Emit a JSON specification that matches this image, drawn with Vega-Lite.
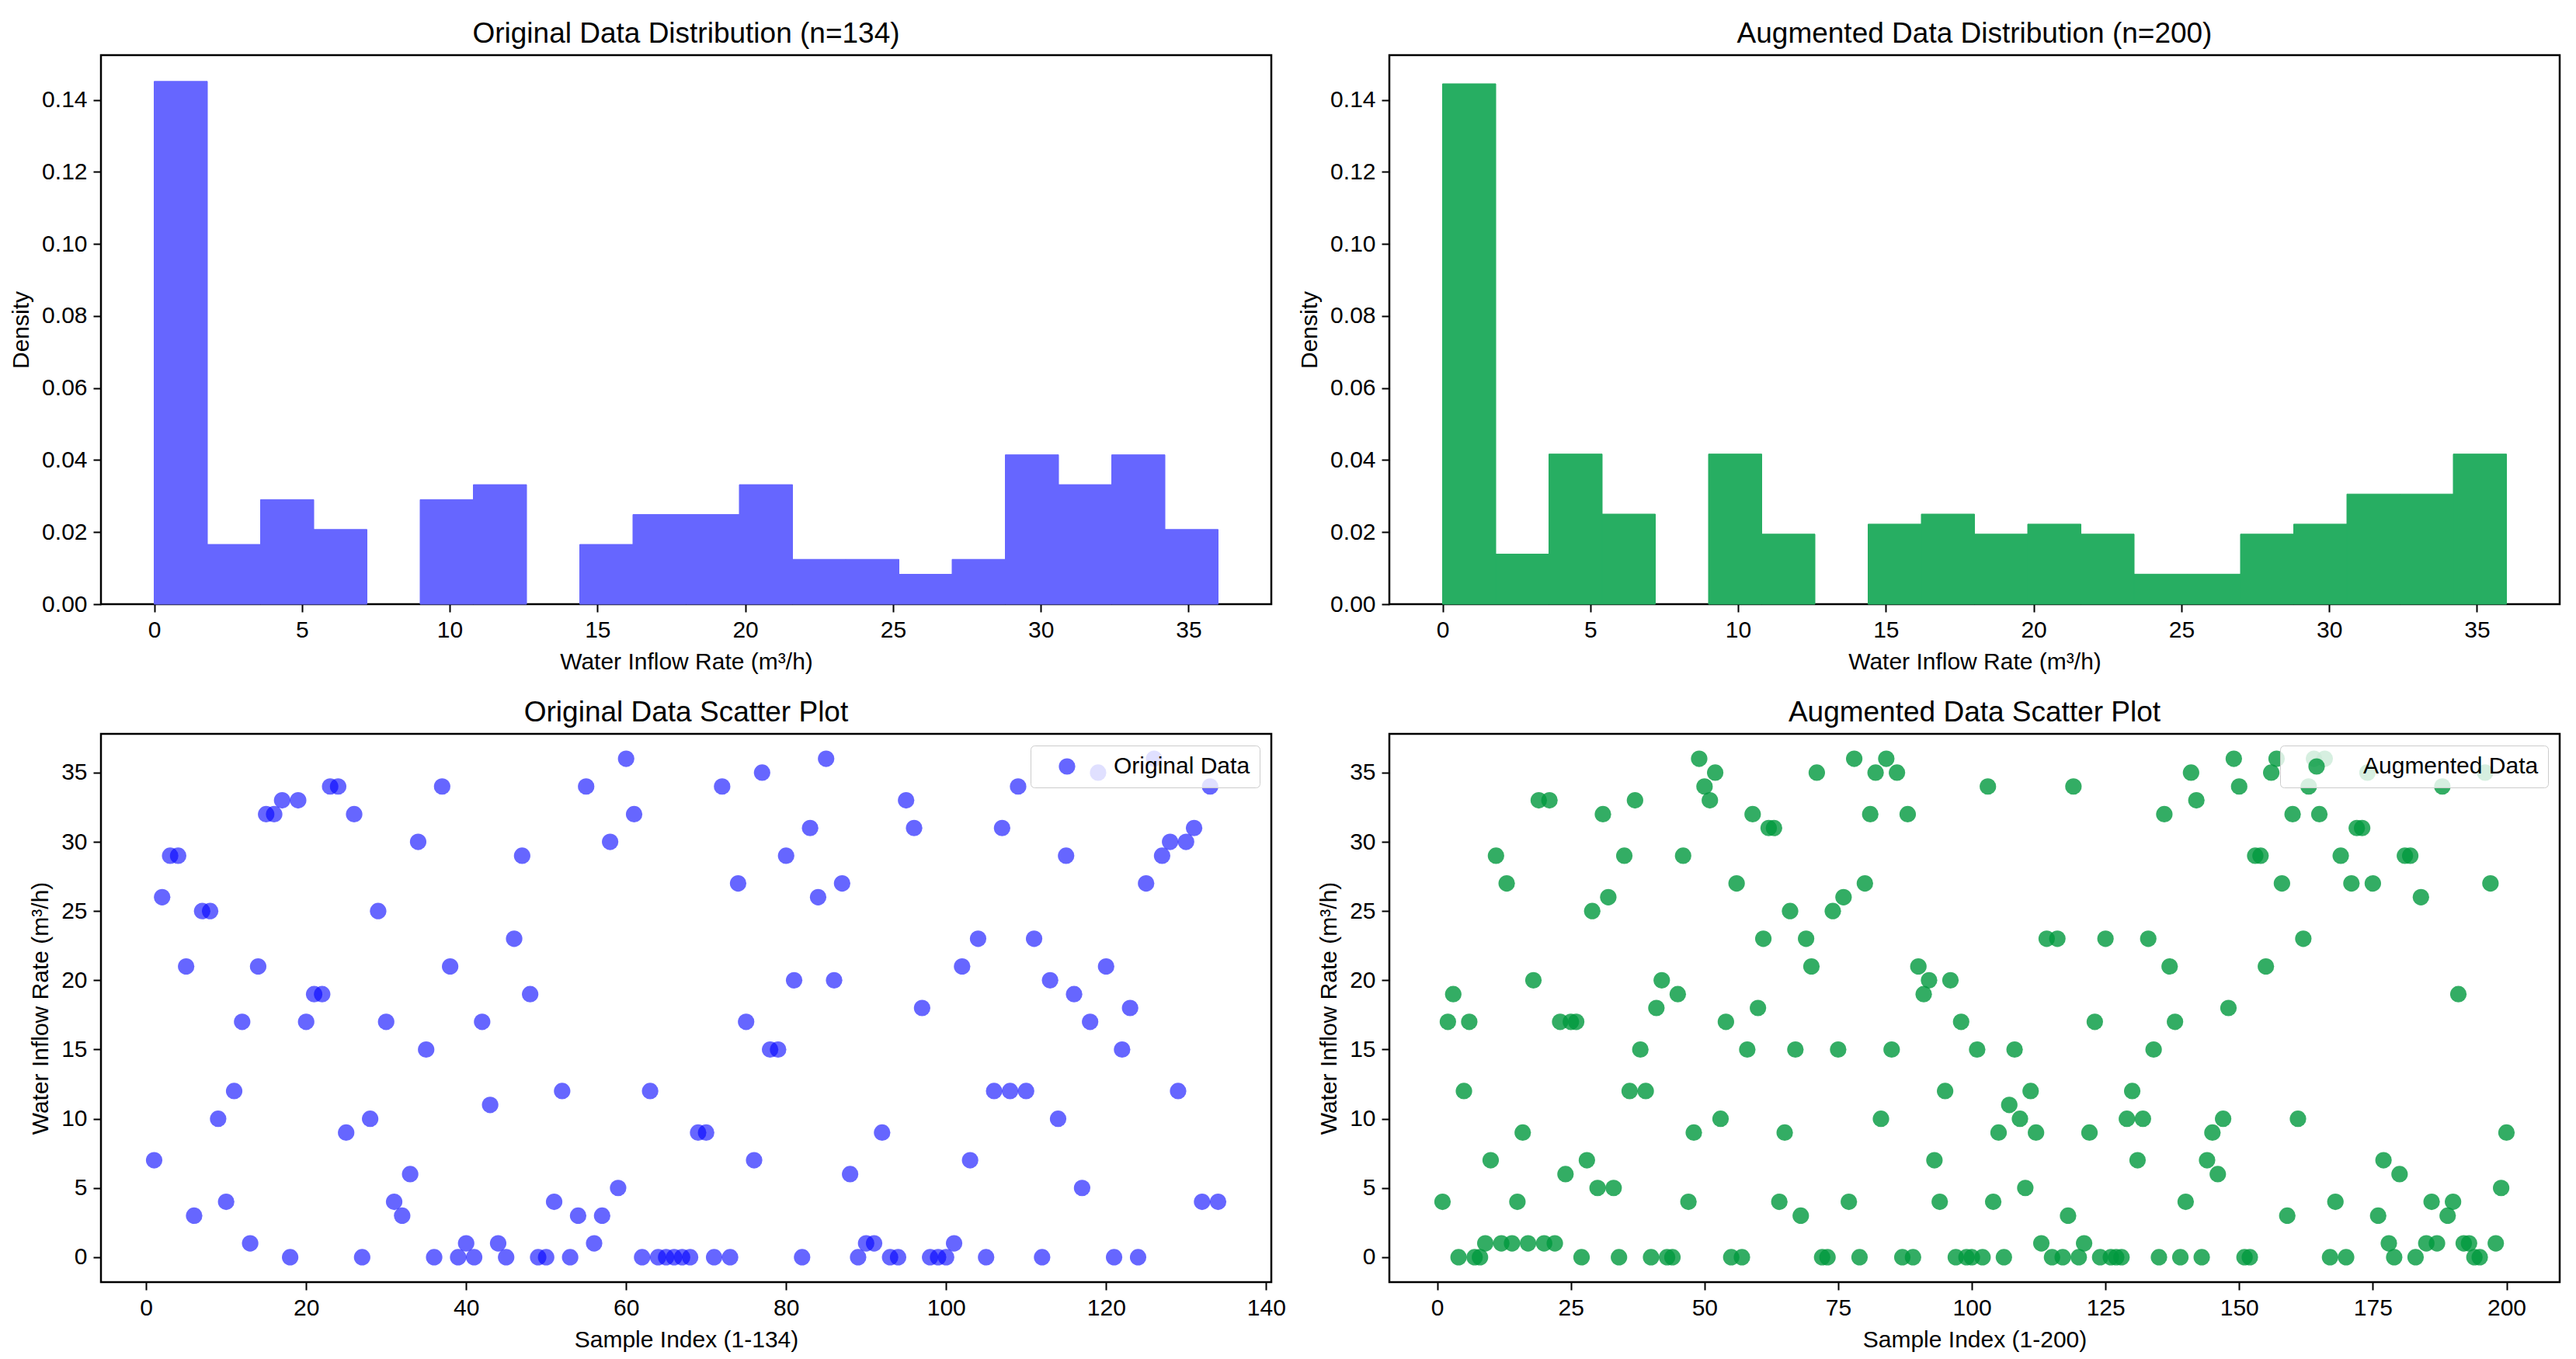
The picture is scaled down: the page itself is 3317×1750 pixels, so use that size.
{
  "$schema": "https://vega.github.io/schema/vega-lite/v6.json",
  "background": "white",
  "padding": {"left": 11, "top": 23, "right": 10, "bottom": 0},
  "config": {
    "font": "Liberation Sans",
    "view": {"stroke": "black", "strokeWidth": 2.5},
    "axis": {
      "grid": false, "domain": false, "ticks": true,
      "tickColor": "black", "tickSize": 10, "tickWidth": 2,
      "labelColor": "black", "labelFontSize": 30, "labelFont": "Liberation Sans",
      "labelPadding": 8, "labelFlush": false, "labelOverlap": false,
      "titleColor": "black", "titleFontSize": 30, "titleFont": "Liberation Sans",
      "titleFontWeight": "normal", "titlePadding": 11
    },
    "title": {"fontSize": 37, "fontWeight": "normal", "font": "Liberation Sans", "color": "black", "anchor": "middle", "baseline": "alphabetic", "offset": 8},
    "legend": {
      "orient": "top-right", "offset": 15, "padding": 12, "cornerRadius": 5,
      "strokeColor": "#cccccc", "fillColor": "rgba(255,255,255,0.8)",
      "labelFontSize": 30, "labelFont": "Liberation Sans", "labelColor": "black", "labelLimit": 0,
      "symbolSize": 450, "symbolType": "circle", "symbolOffset": 20, "labelOffset": 45,
      "symbolStrokeWidth": 0
    }
  },
  "datasets": {
    "hist_orig": [
      {"bin_start": 0.0, "bin_end": 1.8, "density": 0.14511},
      {"bin_start": 1.8, "bin_end": 3.6, "density": 0.01658},
      {"bin_start": 3.6, "bin_end": 5.4, "density": 0.02902},
      {"bin_start": 5.4, "bin_end": 7.2, "density": 0.02073},
      {"bin_start": 9.0, "bin_end": 10.8, "density": 0.02902},
      {"bin_start": 10.8, "bin_end": 12.6, "density": 0.03317},
      {"bin_start": 14.4, "bin_end": 16.2, "density": 0.01658},
      {"bin_start": 16.2, "bin_end": 18.0, "density": 0.02488},
      {"bin_start": 18.0, "bin_end": 19.8, "density": 0.02488},
      {"bin_start": 19.8, "bin_end": 21.6, "density": 0.03317},
      {"bin_start": 21.6, "bin_end": 23.4, "density": 0.01244},
      {"bin_start": 23.4, "bin_end": 25.2, "density": 0.01244},
      {"bin_start": 25.2, "bin_end": 27.0, "density": 0.00829},
      {"bin_start": 27.0, "bin_end": 28.8, "density": 0.01244},
      {"bin_start": 28.8, "bin_end": 30.6, "density": 0.04146},
      {"bin_start": 30.6, "bin_end": 32.4, "density": 0.03317},
      {"bin_start": 32.4, "bin_end": 34.2, "density": 0.04146},
      {"bin_start": 34.2, "bin_end": 36.0, "density": 0.02073}
    ],
    "hist_aug": [
      {"bin_start": 0.0, "bin_end": 1.8, "density": 0.14444},
      {"bin_start": 1.8, "bin_end": 3.6, "density": 0.01389},
      {"bin_start": 3.6, "bin_end": 5.4, "density": 0.04167},
      {"bin_start": 5.4, "bin_end": 7.2, "density": 0.025},
      {"bin_start": 9.0, "bin_end": 10.8, "density": 0.04167},
      {"bin_start": 10.8, "bin_end": 12.6, "density": 0.01944},
      {"bin_start": 14.4, "bin_end": 16.2, "density": 0.02222},
      {"bin_start": 16.2, "bin_end": 18.0, "density": 0.025},
      {"bin_start": 18.0, "bin_end": 19.8, "density": 0.01944},
      {"bin_start": 19.8, "bin_end": 21.6, "density": 0.02222},
      {"bin_start": 21.6, "bin_end": 23.4, "density": 0.01944},
      {"bin_start": 23.4, "bin_end": 25.2, "density": 0.00833},
      {"bin_start": 25.2, "bin_end": 27.0, "density": 0.00833},
      {"bin_start": 27.0, "bin_end": 28.8, "density": 0.01944},
      {"bin_start": 28.8, "bin_end": 30.6, "density": 0.02222},
      {"bin_start": 30.6, "bin_end": 32.4, "density": 0.03056},
      {"bin_start": 32.4, "bin_end": 34.2, "density": 0.03056},
      {"bin_start": 34.2, "bin_end": 36.0, "density": 0.04167}
    ],
    "orig": [
      {"idx":1,"rate":7},{"idx":2,"rate":26},{"idx":3,"rate":29},{"idx":4,"rate":29},{"idx":5,"rate":21},
      {"idx":6,"rate":3},{"idx":7,"rate":25},{"idx":8,"rate":25},{"idx":9,"rate":10},{"idx":10,"rate":4},
      {"idx":11,"rate":12},{"idx":12,"rate":17},{"idx":13,"rate":1},{"idx":14,"rate":21},{"idx":15,"rate":32},
      {"idx":16,"rate":32},{"idx":17,"rate":33},{"idx":18,"rate":0},{"idx":19,"rate":33},{"idx":20,"rate":17},
      {"idx":21,"rate":19},{"idx":22,"rate":19},{"idx":23,"rate":34},{"idx":24,"rate":34},{"idx":25,"rate":9},
      {"idx":26,"rate":32},{"idx":27,"rate":0},{"idx":28,"rate":10},{"idx":29,"rate":25},{"idx":30,"rate":17},
      {"idx":31,"rate":4},{"idx":32,"rate":3},{"idx":33,"rate":6},{"idx":34,"rate":30},{"idx":35,"rate":15},
      {"idx":36,"rate":0},{"idx":37,"rate":34},{"idx":38,"rate":21},{"idx":39,"rate":0},{"idx":40,"rate":1},
      {"idx":41,"rate":0},{"idx":42,"rate":17},{"idx":43,"rate":11},{"idx":44,"rate":1},{"idx":45,"rate":0},
      {"idx":46,"rate":23},{"idx":47,"rate":29},{"idx":48,"rate":19},{"idx":49,"rate":0},{"idx":50,"rate":0},
      {"idx":51,"rate":4},{"idx":52,"rate":12},{"idx":53,"rate":0},{"idx":54,"rate":3},{"idx":55,"rate":34},
      {"idx":56,"rate":1},{"idx":57,"rate":3},{"idx":58,"rate":30},{"idx":59,"rate":5},{"idx":60,"rate":36},
      {"idx":61,"rate":32},{"idx":62,"rate":0},{"idx":63,"rate":12},{"idx":64,"rate":0},{"idx":65,"rate":0},
      {"idx":66,"rate":0},{"idx":67,"rate":0},{"idx":68,"rate":0},{"idx":69,"rate":9},{"idx":70,"rate":9},
      {"idx":71,"rate":0},{"idx":72,"rate":34},{"idx":73,"rate":0},{"idx":74,"rate":27},{"idx":75,"rate":17},
      {"idx":76,"rate":7},{"idx":77,"rate":35},{"idx":78,"rate":15},{"idx":79,"rate":15},{"idx":80,"rate":29},
      {"idx":81,"rate":20},{"idx":82,"rate":0},{"idx":83,"rate":31},{"idx":84,"rate":26},{"idx":85,"rate":36},
      {"idx":86,"rate":20},{"idx":87,"rate":27},{"idx":88,"rate":6},{"idx":89,"rate":0},{"idx":90,"rate":1},
      {"idx":91,"rate":1},{"idx":92,"rate":9},{"idx":93,"rate":0},{"idx":94,"rate":0},{"idx":95,"rate":33},
      {"idx":96,"rate":31},{"idx":97,"rate":18},{"idx":98,"rate":0},{"idx":99,"rate":0},{"idx":100,"rate":0},
      {"idx":101,"rate":1},{"idx":102,"rate":21},{"idx":103,"rate":7},{"idx":104,"rate":23},{"idx":105,"rate":0},
      {"idx":106,"rate":12},{"idx":107,"rate":31},{"idx":108,"rate":12},{"idx":109,"rate":34},{"idx":110,"rate":12},
      {"idx":111,"rate":23},{"idx":112,"rate":0},{"idx":113,"rate":20},{"idx":114,"rate":10},{"idx":115,"rate":29},
      {"idx":116,"rate":19},{"idx":117,"rate":5},{"idx":118,"rate":17},{"idx":119,"rate":35},{"idx":120,"rate":21},
      {"idx":121,"rate":0},{"idx":122,"rate":15},{"idx":123,"rate":18},{"idx":124,"rate":0},{"idx":125,"rate":27},
      {"idx":126,"rate":36},{"idx":127,"rate":29},{"idx":128,"rate":30},{"idx":129,"rate":12},{"idx":130,"rate":30},
      {"idx":131,"rate":31},{"idx":132,"rate":4},{"idx":133,"rate":34},{"idx":134,"rate":4}
    ],
    "aug": [
      {"idx":1,"rate":4},{"idx":2,"rate":17},{"idx":3,"rate":19},{"idx":4,"rate":0},{"idx":5,"rate":12},
      {"idx":6,"rate":17},{"idx":7,"rate":0},{"idx":8,"rate":0},{"idx":9,"rate":1},{"idx":10,"rate":7},
      {"idx":11,"rate":29},{"idx":12,"rate":1},{"idx":13,"rate":27},{"idx":14,"rate":1},{"idx":15,"rate":4},
      {"idx":16,"rate":9},{"idx":17,"rate":1},{"idx":18,"rate":20},{"idx":19,"rate":33},{"idx":20,"rate":1},
      {"idx":21,"rate":33},{"idx":22,"rate":1},{"idx":23,"rate":17},{"idx":24,"rate":6},{"idx":25,"rate":17},
      {"idx":26,"rate":17},{"idx":27,"rate":0},{"idx":28,"rate":7},{"idx":29,"rate":25},{"idx":30,"rate":5},
      {"idx":31,"rate":32},{"idx":32,"rate":26},{"idx":33,"rate":5},{"idx":34,"rate":0},{"idx":35,"rate":29},
      {"idx":36,"rate":12},{"idx":37,"rate":33},{"idx":38,"rate":15},{"idx":39,"rate":12},{"idx":40,"rate":0},
      {"idx":41,"rate":18},{"idx":42,"rate":20},{"idx":43,"rate":0},{"idx":44,"rate":0},{"idx":45,"rate":19},
      {"idx":46,"rate":29},{"idx":47,"rate":4},{"idx":48,"rate":9},{"idx":49,"rate":36},{"idx":50,"rate":34},
      {"idx":51,"rate":33},{"idx":52,"rate":35},{"idx":53,"rate":10},{"idx":54,"rate":17},{"idx":55,"rate":0},
      {"idx":56,"rate":27},{"idx":57,"rate":0},{"idx":58,"rate":15},{"idx":59,"rate":32},{"idx":60,"rate":18},
      {"idx":61,"rate":23},{"idx":62,"rate":31},{"idx":63,"rate":31},{"idx":64,"rate":4},{"idx":65,"rate":9},
      {"idx":66,"rate":25},{"idx":67,"rate":15},{"idx":68,"rate":3},{"idx":69,"rate":23},{"idx":70,"rate":21},
      {"idx":71,"rate":35},{"idx":72,"rate":0},{"idx":73,"rate":0},{"idx":74,"rate":25},{"idx":75,"rate":15},
      {"idx":76,"rate":26},{"idx":77,"rate":4},{"idx":78,"rate":36},{"idx":79,"rate":0},{"idx":80,"rate":27},
      {"idx":81,"rate":32},{"idx":82,"rate":35},{"idx":83,"rate":10},{"idx":84,"rate":36},{"idx":85,"rate":15},
      {"idx":86,"rate":35},{"idx":87,"rate":0},{"idx":88,"rate":32},{"idx":89,"rate":0},{"idx":90,"rate":21},
      {"idx":91,"rate":19},{"idx":92,"rate":20},{"idx":93,"rate":7},{"idx":94,"rate":4},{"idx":95,"rate":12},
      {"idx":96,"rate":20},{"idx":97,"rate":0},{"idx":98,"rate":17},{"idx":99,"rate":0},{"idx":100,"rate":0},
      {"idx":101,"rate":15},{"idx":102,"rate":0},{"idx":103,"rate":34},{"idx":104,"rate":4},{"idx":105,"rate":9},
      {"idx":106,"rate":0},{"idx":107,"rate":11},{"idx":108,"rate":15},{"idx":109,"rate":10},{"idx":110,"rate":5},
      {"idx":111,"rate":12},{"idx":112,"rate":9},{"idx":113,"rate":1},{"idx":114,"rate":23},{"idx":115,"rate":0},
      {"idx":116,"rate":23},{"idx":117,"rate":0},{"idx":118,"rate":3},{"idx":119,"rate":34},{"idx":120,"rate":0},
      {"idx":121,"rate":1},{"idx":122,"rate":9},{"idx":123,"rate":17},{"idx":124,"rate":0},{"idx":125,"rate":23},
      {"idx":126,"rate":0},{"idx":127,"rate":0},{"idx":128,"rate":0},{"idx":129,"rate":10},{"idx":130,"rate":12},
      {"idx":131,"rate":7},{"idx":132,"rate":10},{"idx":133,"rate":23},{"idx":134,"rate":15},{"idx":135,"rate":0},
      {"idx":136,"rate":32},{"idx":137,"rate":21},{"idx":138,"rate":17},{"idx":139,"rate":0},{"idx":140,"rate":4},
      {"idx":141,"rate":35},{"idx":142,"rate":33},{"idx":143,"rate":0},{"idx":144,"rate":7},{"idx":145,"rate":9},
      {"idx":146,"rate":6},{"idx":147,"rate":10},{"idx":148,"rate":18},{"idx":149,"rate":36},{"idx":150,"rate":34},
      {"idx":151,"rate":0},{"idx":152,"rate":0},{"idx":153,"rate":29},{"idx":154,"rate":29},{"idx":155,"rate":21},
      {"idx":156,"rate":35},{"idx":157,"rate":36},{"idx":158,"rate":27},{"idx":159,"rate":3},{"idx":160,"rate":32},
      {"idx":161,"rate":10},{"idx":162,"rate":23},{"idx":163,"rate":34},{"idx":164,"rate":36},{"idx":165,"rate":32},
      {"idx":166,"rate":36},{"idx":167,"rate":0},{"idx":168,"rate":4},{"idx":169,"rate":29},{"idx":170,"rate":0},
      {"idx":171,"rate":27},{"idx":172,"rate":31},{"idx":173,"rate":31},{"idx":174,"rate":35},{"idx":175,"rate":27},
      {"idx":176,"rate":3},{"idx":177,"rate":7},{"idx":178,"rate":1},{"idx":179,"rate":0},{"idx":180,"rate":6},
      {"idx":181,"rate":29},{"idx":182,"rate":29},{"idx":183,"rate":0},{"idx":184,"rate":26},{"idx":185,"rate":1},
      {"idx":186,"rate":4},{"idx":187,"rate":1},{"idx":188,"rate":34},{"idx":189,"rate":3},{"idx":190,"rate":4},
      {"idx":191,"rate":19},{"idx":192,"rate":1},{"idx":193,"rate":1},{"idx":194,"rate":0},{"idx":195,"rate":0},
      {"idx":196,"rate":35},{"idx":197,"rate":27},{"idx":198,"rate":1},{"idx":199,"rate":5},{"idx":200,"rate":9}
    ]
  },
  "columns": 2,
  "spacing": {"column": 13, "row": 28},
  "resolve": {"scale": {"x": "independent", "y": "independent", "color": "independent"}, "axis": {"x": "independent", "y": "independent"}, "legend": {"color": "independent"}},
  "concat": [
    {
      "title": {"text": "Original Data Distribution (n=134)"},
      "width": 1507, "height": 707,
      "data": {"name": "hist_orig"},
      "mark": {"type": "rect", "color": "#6666ff", "stroke": "#6666ff", "strokeWidth": 1},
      "encoding": {
        "x": {"field": "bin_start", "type": "quantitative", "scale": {"domain": [-1.8, 37.8], "nice": false, "zero": false},
              "axis": {"title": "Water Inflow Rate (m³/h)", "values": [0, 5, 10, 15, 20, 25, 30, 35], "format": "d"}},
        "x2": {"field": "bin_end"},
        "y": {"field": "density", "type": "quantitative", "scale": {"domain": [0, 0.1524], "nice": false},
              "axis": {"title": "Density", "values": [0, 0.02, 0.04, 0.06, 0.08, 0.1, 0.12, 0.14], "format": ".2f"}},
        "y2": {"datum": 0}
      }
    },
    {
      "title": {"text": "Augmented Data Distribution (n=200)"},
      "width": 1507, "height": 707,
      "data": {"name": "hist_aug"},
      "mark": {"type": "rect", "color": "#27ae62", "stroke": "#27ae62", "strokeWidth": 1},
      "encoding": {
        "x": {"field": "bin_start", "type": "quantitative", "scale": {"domain": [-1.8, 37.8], "nice": false, "zero": false},
              "axis": {"title": "Water Inflow Rate (m³/h)", "values": [0, 5, 10, 15, 20, 25, 30, 35], "format": "d"}},
        "x2": {"field": "bin_end"},
        "y": {"field": "density", "type": "quantitative", "scale": {"domain": [0, 0.1524], "nice": false},
              "axis": {"title": "Density", "values": [0, 0.02, 0.04, 0.06, 0.08, 0.1, 0.12, 0.14], "format": ".2f"}},
        "y2": {"datum": 0}
      }
    },
    {
      "title": {"text": "Original Data Scatter Plot"},
      "width": 1507, "height": 706,
      "data": {"name": "orig"},
      "mark": {"type": "circle", "size": 450, "opacity": 0.6},
      "encoding": {
        "x": {"field": "idx", "type": "quantitative", "scale": {"domain": [-5.65, 140.65], "nice": false, "zero": false},
              "axis": {"title": "Sample Index (1-134)", "values": [0, 20, 40, 60, 80, 100, 120, 140], "format": "d"}},
        "y": {"field": "rate", "type": "quantitative", "scale": {"domain": [-1.8, 37.8], "nice": false, "zero": false},
              "axis": {"title": "Water Inflow Rate (m³/h)", "values": [0, 5, 10, 15, 20, 25, 30, 35], "format": "d"}},
        "color": {"datum": "Original Data", "type": "nominal", "scale": {"range": ["blue"]},
                  "legend": {"title": null, "symbolOpacity": 0.6}}
      }
    },
    {
      "title": {"text": "Augmented Data Scatter Plot"},
      "width": 1507, "height": 706,
      "data": {"name": "aug"},
      "mark": {"type": "circle", "size": 450, "opacity": 0.8},
      "encoding": {
        "x": {"field": "idx", "type": "quantitative", "scale": {"domain": [-8.95, 209.95], "nice": false, "zero": false},
              "axis": {"title": "Sample Index (1-200)", "values": [0, 25, 50, 75, 100, 125, 150, 175, 200], "format": "d"}},
        "y": {"field": "rate", "type": "quantitative", "scale": {"domain": [-1.8, 37.8], "nice": false, "zero": false},
              "axis": {"title": "Water Inflow Rate (m³/h)", "values": [0, 5, 10, 15, 20, 25, 30, 35], "format": "d"}},
        "color": {"datum": "Augmented Data", "type": "nominal", "scale": {"range": ["#00993d"]},
                  "legend": {"title": null, "symbolOpacity": 0.8}}
      }
    }
  ]
}
